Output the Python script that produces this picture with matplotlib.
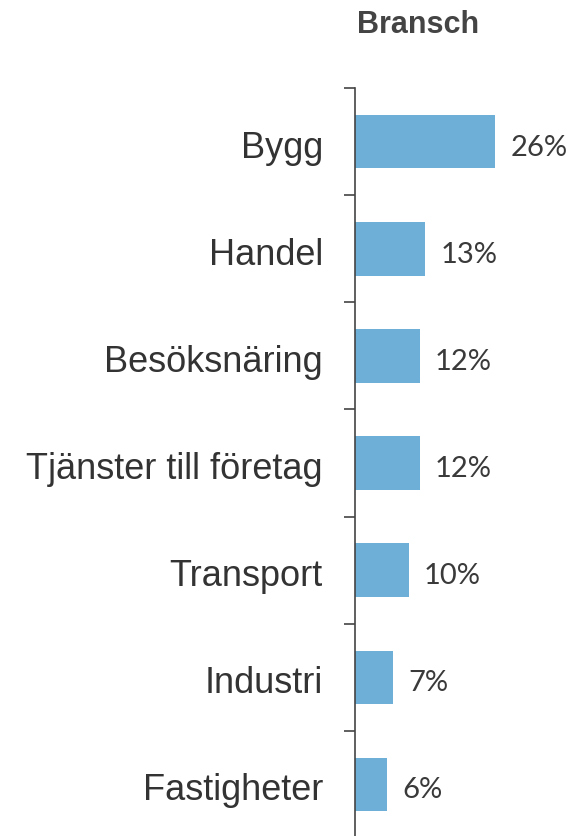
import matplotlib.pyplot as plt

# data
branscher = ['Bygg', 'Handel', 'Besöksnäring', 'Tjänster till företag',
             'Transport', 'Industri', 'Fastigheter']
andel = [26, 13, 12, 12, 10, 7, 6]

W, H = 573, 836
fig = plt.figure(figsize=(W / 100, H / 100), dpi=100)

# axes: spine at x=355 px, categories from y=88 px down past the bottom
x0, top, bottom = 355, 88, 838
ax = fig.add_axes([x0 / W, 1 - bottom / H, 1 - x0 / W, (bottom - top) / H])

n = len(branscher)
pos = [n - 1 - i for i in range(n)]
ax.barh(pos, andel, height=0.5, color='#6eafd7')

# 26% ends at x=495 px
ax.set_xlim(0, 26 * (W - x0) / (495 - x0))
ax.set_ylim(-0.5, n - 0.5)

# value labels, text sits a few px below the bar centre in the scan
for p, v in zip(pos, andel):
    ax.annotate(f'{v}%', (v, p - 0.13), xytext=(11, 0),
                textcoords='offset points', va='baseline', ha='left',
                fontsize=21, color='#3a3a3a', family='Lato')

for s in ['top', 'right', 'bottom']:
    ax.spines[s].set_visible(False)
ax.spines['left'].set_color('#444444')
ax.spines['left'].set_linewidth(1.2)
ax.set_xticks([])
ax.set_yticks([p + 0.5 for p in pos])
ax.set_yticklabels([])
ax.tick_params(axis='y', length=8, width=1.2, color='#444444')

for p, b in zip(pos, branscher):
    ax.text(-32 / (W - x0) * ax.get_xlim()[1], p - 0.15, b, ha='right',
            va='baseline', fontsize=26, color='#333333',
            family='Liberation Sans')

fig.text(418 / W, 1 - 25 / H, 'Bransch', ha='center', va='center',
         fontsize=22, fontweight='bold', color='#444444',
         family='Liberation Sans')

fig.savefig('out.png', dpi=100)
